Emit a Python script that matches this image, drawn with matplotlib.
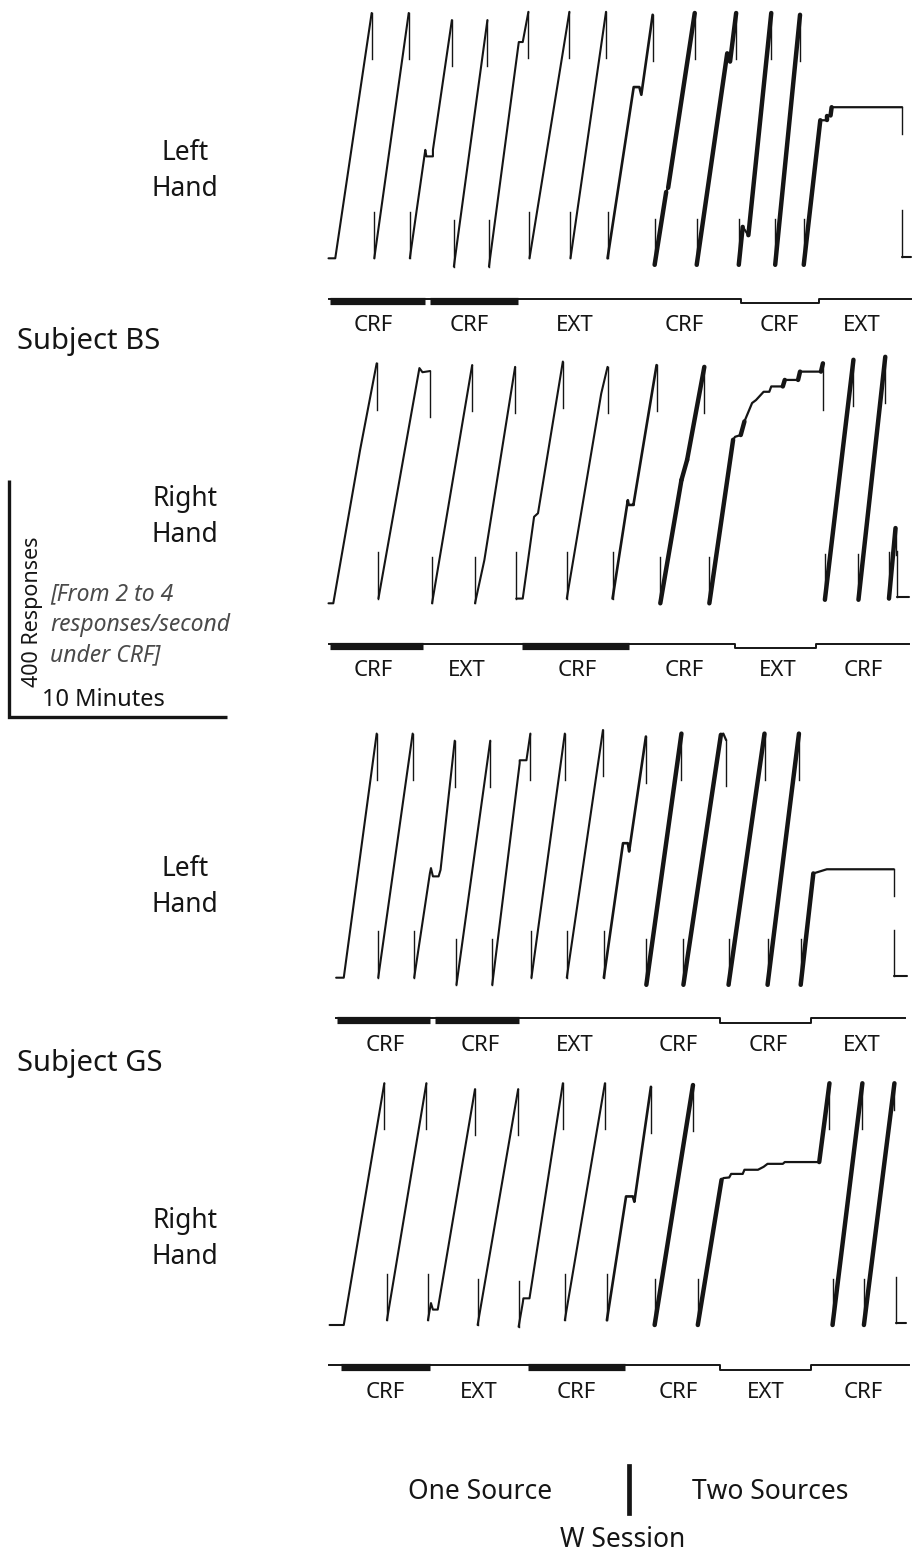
import numpy as np
import matplotlib
matplotlib.use("Agg")
import matplotlib.pyplot as plt
from matplotlib.lines import Line2D

plt.rcParams['font.family'] = ['Noto Sans', 'DejaVu Sans']

# ---------------- data (time in minutes, responses since last pen reset) ----------------
BS_LEFT_T = [
    [0.39, 0.70, 2.37],
    [2.49, 4.07],
    [4.12, 4.83, 4.88, 5.18, 5.18, 6.05],
    [6.14, 7.68],
    [7.75, 9.09, 9.12, 9.30, 9.56],
    [9.61, 11.44],
    [11.49, 13.12],
    [13.19, 14.39, 14.65, 14.74, 15.26],
    [15.35, 15.88, 15.97, 17.19],
    [17.28, 18.68, 18.81, 19.09],
    [19.21, 19.39, 19.65, 20.70],
    [20.88, 22.02],
    [22.19, 22.95, 23.25, 23.25, 23.42, 23.47, 26.70],
    [26.70, 27.10],
]
BS_LEFT_R = [
    [0, 0, 414],
    [0, 414],
    [0, 183, 172, 172, 183, 402],
    [-14, 402],
    [-14, 357, 365, 365, 416],
    [0, 416],
    [0, 416],
    [0, 289, 289, 276, 411],
    [-11, 112, 119, 414],
    [-11, 346, 332, 414],
    [-11, 53, 39, 414],
    [-11, 411],
    [-11, 233, 233, 241, 241, 255, 255],
    [3, 3],
]
BS_LEFT_W = [0, 0, 0, 0, 0, 0, 0, 1, 2, 2, 2, 2, 2, 0]

BS_RIGHT_T = [
    [0.39, 0.61, 1.84, 2.60],
    [2.68, 4.56, 4.70, 5.05],
    [5.14, 6.98],
    [7.11, 7.54, 8.95],
    [9.00, 9.30, 9.82, 10.00, 11.14],
    [11.32, 12.90, 13.19],
    [13.42, 14.12, 14.16, 14.39, 14.39, 15.44],
    [15.61, 16.58, 16.84, 17.63],
    [17.86, 18.95, 19.04, 19.30, 19.47, 19.82, 20.00, 20.35, 20.61, 20.70,
     21.23, 21.32, 21.93, 22.02, 22.98, 23.07],
    [23.16, 24.47],
    [24.70, 25.93],
    [26.10, 26.40],
    [26.46, 27.02],
]
BS_RIGHT_R = [
    [0, 0, 259, 405],
    [8, 397, 390, 392],
    [0, 402],
    [0, 73, 399],
    [8, 8, 146, 152, 408],
    [8, 354, 399],
    [8, 174, 166, 166, 169, 402],
    [0, 208, 242, 399],
    [0, 276, 281, 284, 307, 338, 343, 357, 357, 366, 366, 377, 377, 391, 391, 405],
    [6, 411],
    [6, 416],
    [8, 127],
    [11, 11],
]
BS_RIGHT_W = [0, 0, 0, 0, 0, 0, 1, 2, 2, 2, 2, 2, 0]

GS_LEFT_T = [
    [0.74, 1.09, 2.60],
    [2.67, 4.25],
    [4.32, 5.04, 5.09, 5.18, 5.44, 5.53, 6.18],
    [6.26, 7.81],
    [7.90, 9.16, 9.16, 9.47, 9.65],
    [9.70, 11.23],
    [11.32, 12.98],
    [13.02, 13.90, 14.12, 14.18, 14.95],
    [14.97, 16.58],
    [16.67, 18.39, 18.50, 18.63],
    [18.74, 20.39],
    [20.53, 21.97],
    [22.05, 22.63, 22.72, 23.16, 23.25, 26.32],
    [26.32, 26.93],
]
GS_LEFT_R = [
    [0, 0, 412],
    [0, 412],
    [0, 176, 185, 171, 171, 182, 400],
    [-12, 400],
    [-12, 362, 367, 367, 412],
    [0, 412],
    [0, 418],
    [0, 227, 227, 213, 407],
    [-12, 412],
    [-12, 410, 412, 401],
    [-12, 412],
    [-12, 412],
    [-12, 176, 177, 182, 183, 183],
    [3, 3],
]
GS_LEFT_W = [0, 0, 0, 0, 0, 0, 0, 1, 2, 2, 2, 2, 2, 0]

GS_RIGHT_T = [
    [0.44, 1.09, 2.95],
    [3.07, 4.88],
    [4.95, 5.09, 5.18, 5.40, 7.11],
    [7.23, 9.09],
    [9.11, 9.30, 9.33, 9.61, 11.14],
    [11.23, 13.07],
    [13.16, 14.04, 14.35, 14.42, 15.18],
    [15.35, 17.11],
    [17.33, 18.42, 18.51, 18.77, 18.86, 19.39, 19.47, 20.09, 20.35, 20.53,
     21.23, 21.32, 22.90, 23.37],
    [23.51, 24.88],
    [24.95, 26.35],
    [26.40, 26.88],
]
GS_RIGHT_R = [
    [0, 0, 408],
    [8, 408],
    [8, 37, 26, 26, 398],
    [0, 398],
    [-3, 37, 45, 45, 408],
    [8, 408],
    [8, 217, 217, 208, 402],
    [0, 405],
    [0, 245, 248, 249, 255, 255, 262, 262, 267, 272, 272, 275, 275, 408],
    [0, 408],
    [0, 408],
    [3, 3],
]
GS_RIGHT_W = [0, 0, 0, 0, 0, 0, 1, 2, 2, 2, 2, 0]

# event pen: boundaries (minutes) and state of each stretch
BS_LEFT_EV_T = [0.39, 4.83, 5.00, 9.12, 19.30, 22.89, 27.10]
BS_LEFT_EV_S = ["thick", "up", "thick", "up", "down", "up"]
BS_RIGHT_EV_T = [0.39, 4.77, 9.21, 14.21, 19.04, 22.77, 27.02]
BS_RIGHT_EV_S = ["thick", "up", "thick", "up", "down", "up"]
GS_LEFT_EV_T = [0.74, 5.09, 5.23, 9.16, 18.33, 22.54, 26.84]
GS_LEFT_EV_S = ["thick", "up", "thick", "up", "down", "up"]
GS_RIGHT_EV_T = [0.39, 0.91, 5.09, 9.47, 14.04, 18.33, 22.54, 27.02]
GS_RIGHT_EV_S = ["up", "thick", "up", "thick", "up", "down", "up"]

# condition labels
BS_LEFT_LAB = ["CRF", "CRF", "EXT", "CRF", "CRF", "EXT"]
BS_LEFT_LAB_T = [2.42, 6.84, 11.70, 16.72, 21.07, 24.85]
BS_RIGHT_LAB = ["CRF", "EXT", "CRF", "CRF", "EXT", "CRF"]
BS_RIGHT_LAB_T = [2.42, 6.72, 11.78, 16.70, 20.98, 24.93]
GS_LEFT_LAB = ["CRF", "CRF", "EXT", "CRF", "CRF", "EXT"]
GS_LEFT_LAB_T = [2.98, 7.35, 11.70, 16.42, 20.54, 24.87]
GS_RIGHT_LAB = ["CRF", "EXT", "CRF", "CRF", "EXT", "CRF"]
GS_RIGHT_LAB_T = [2.98, 7.27, 11.77, 16.43, 20.45, 24.90]

SCALE_MINUTES = 10
SCALE_RESPONSES = 400

# ---------------- layout / style ----------------
W, H = 923, 1554
PX_PER_MIN = 21.8
PX_PER_RESP = 0.5925
X0, X1 = 320, 915
Y_LIM = (-135, 430)
INK = '#151515'
LW = {0: 1.5, 1: 1.9, 2: 1.6}
THICK_LW = 3.2
TICK_LW = 1.0
TICK = 78
EV_UP, EV_DOWN, EV_THICK = -68, -76, -71.5
LAB_R = -114

fig = plt.figure(figsize=(W / 100, H / 100), dpi=100)


def panel_axes(base_px):
    top_px = base_px - Y_LIM[1] * PX_PER_RESP
    bot_px = base_px - Y_LIM[0] * PX_PER_RESP
    ax = fig.add_axes([X0 / W, 1 - bot_px / H, (X1 - X0) / W, (bot_px - top_px) / H])
    ax.set_xlim(0, (X1 - X0) / PX_PER_MIN)
    ax.set_ylim(*Y_LIM)
    ax.axis('off')
    return ax


def draw_record(ax, T, R, Wt):
    n = len(T)
    for t, r, w in zip(T, R, Wt):
        ax.plot(t, r, color=INK, lw=LW[w], solid_capstyle='round', solid_joinstyle='round')
        if w == 2:
            t_ = np.array(t, float)
            r_ = np.array(r, float)
            for j in range(len(t_) - 1):
                dt = t_[j + 1] - t_[j]
                dr = r_[j + 1] - r_[j]
                if dr > 0 and (dt <= 0 or dr / dt > 120):
                    ax.plot(t_[j:j + 2], r_[j:j + 2], color=INK, lw=THICK_LW,
                            solid_capstyle='round')
    for i in range(n - 1):
        L = 45 if i == n - 2 else TICK
        tt, rt = T[i][-1], R[i][-1]
        ax.plot([tt, tt], [rt, rt - L], color=INK, lw=TICK_LW)
        tb, rb = T[i + 1][0], R[i + 1][0]
        ax.plot([tb, tb], [rb + TICK, rb], color=INK, lw=TICK_LW)


def draw_events(ax, bounds, states):
    xs, ys = [], []
    for a, b, s in zip(bounds[:-1], bounds[1:], states):
        lvl = EV_DOWN if s == 'down' else EV_UP
        xs += [a, b]
        ys += [lvl, lvl]
    ax.plot(xs, ys, color=INK, lw=1.4)
    for a, b, s in zip(bounds[:-1], bounds[1:], states):
        if s == 'thick':
            ax.plot([a + 0.05, b - 0.03], [EV_THICK, EV_THICK], color=INK, lw=5.2,
                    solid_capstyle='butt')


def draw_labels(ax, labs, ts):
    for lab, t in zip(labs, ts):
        ax.text(t, LAB_R, lab, ha='center', va='center', fontsize=16, color=INK)


panels = [
    (258.3, BS_LEFT_T, BS_LEFT_R, BS_LEFT_W, BS_LEFT_EV_T, BS_LEFT_EV_S, BS_LEFT_LAB, BS_LEFT_LAB_T),
    (603.3, BS_RIGHT_T, BS_RIGHT_R, BS_RIGHT_W, BS_RIGHT_EV_T, BS_RIGHT_EV_S, BS_RIGHT_LAB, BS_RIGHT_LAB_T),
    (977.7, GS_LEFT_T, GS_LEFT_R, GS_LEFT_W, GS_LEFT_EV_T, GS_LEFT_EV_S, GS_LEFT_LAB, GS_LEFT_LAB_T),
    (1325.0, GS_RIGHT_T, GS_RIGHT_R, GS_RIGHT_W, GS_RIGHT_EV_T, GS_RIGHT_EV_S, GS_RIGHT_LAB, GS_RIGHT_LAB_T),
]
for base, T, R, Wt, EVT, EVS, LAB, LABT in panels:
    ax = panel_axes(base)
    draw_record(ax, T, R, Wt)
    draw_events(ax, EVT, EVS)
    draw_labels(ax, LAB, LABT)


def ftxt(x, y, s, **kw):
    kw.setdefault('color', INK)
    fig.text(x / W, 1 - y / H, s, **kw)


# side labels
for y, s in [(171, "Left\nHand"), (517, "Right\nHand"), (887, "Left\nHand"), (1239, "Right\nHand")]:
    ftxt(185, y, s, ha='center', va='center', fontsize=19, linespacing=1.4)
ftxt(17, 342, "Subject BS", ha='left', va='center', fontsize=21)
ftxt(17, 1063, "Subject GS", ha='left', va='center', fontsize=21)

# scale bar
sx0, sy0 = 9.5, 717.0
sax_l, sax_r, sax_t, sax_b = 0, 240, 470, 725
sax = fig.add_axes([sax_l / W, 1 - sax_b / H, (sax_r - sax_l) / W, (sax_b - sax_t) / H])
sax.set_xlim(-(sx0 - sax_l) / PX_PER_MIN, (sax_r - sx0) / PX_PER_MIN)
sax.set_ylim(-(sax_b - sy0) / PX_PER_RESP, (sy0 - sax_t) / PX_PER_RESP)
sax.axis('off')
sax.plot([0, 0, SCALE_MINUTES], [SCALE_RESPONSES, 0, 0], color=INK, lw=2.4,
         solid_joinstyle='miter', solid_capstyle='butt')

ftxt(33, 612, "400 Responses", rotation=90, ha='center', va='center', fontsize=15.5)
GRAY = '#4a4a4a'
ftxt(50, 594, "[From 2 to 4", ha='left', va='center', fontsize=16.5, style='italic', color=GRAY)
ftxt(50, 625, "responses/second", ha='left', va='center', fontsize=16.5, style='italic', color=GRAY)
ftxt(50, 655, "under CRF]", ha='left', va='center', fontsize=16.5, style='italic', color=GRAY)
ftxt(42, 700, "10 Minutes", ha='left', va='center', fontsize=17)

# bottom legend
ftxt(480, 1492, "One Source", ha='center', va='center', fontsize=19)
ftxt(770, 1492, "Two Sources", ha='center', va='center', fontsize=19)
ftxt(623, 1540, "W Session", ha='center', va='center', fontsize=19)
fig.add_artist(Line2D([629 / W, 629 / W], [1 - 1466 / H, 1 - 1513 / H], color=INK, lw=3.4))

fig.savefig("out.png", dpi=100)
